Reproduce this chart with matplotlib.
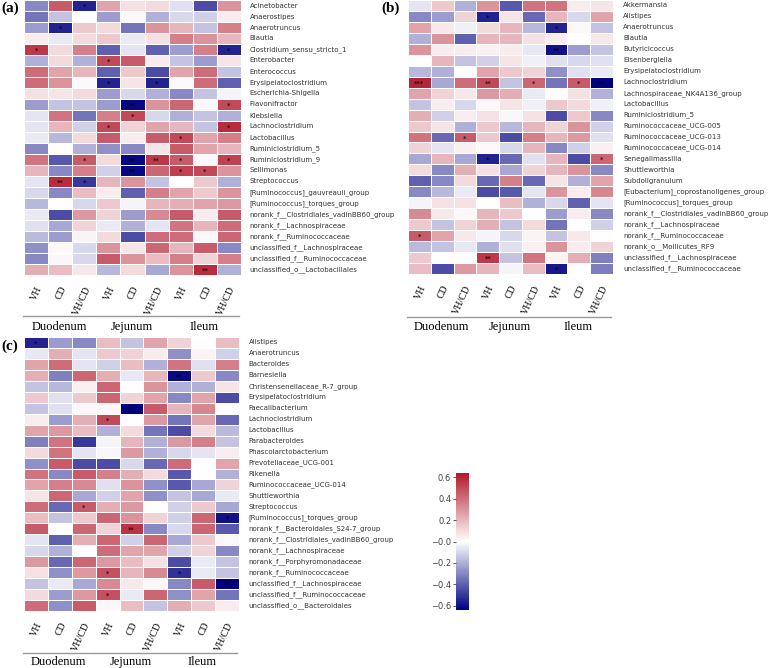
import numpy as np
import matplotlib
matplotlib.use('Agg')
import matplotlib.pyplot as plt
from matplotlib.colors import LinearSegmentedColormap
from matplotlib.lines import Line2D

W, H = 778, 668

groups = ['Duodenum', 'Jejunum', 'Ileum']
treatments = ['VH', 'CD', 'VH/CD']

# ---- panel (a) ----
a_genera = ['Acinetobacter', 'Anaerostipes', 'Anaerotruncus', 'Blautia',
            'Clostridium_sensu_stricto_1', 'Enterobacter', 'Enterococcus',
            'Erysipelatoclostridium', 'Escherichia-Shigella', 'Flavonifractor',
            'Klebsiella', 'Lachnoclostridium', 'Lactobacillus', 'Ruminiclostridium_5',
            'Ruminiclostridium_9', 'Sellimonas', 'Streptococcus',
            '[Ruminococcus]_gauvreauii_group', '[Ruminococcus]_torques_group',
            'norank_f__Clostridiales_vadinBB60_group', 'norank_f__Lachnospiraceae',
            'norank_f__Ruminococcaceae', 'unclassified_f__Lachnospiraceae',
            'unclassified_f__Ruminococcaceae', 'unclassified_o__Lactobacillales']
a_vals = [
    [-0.30, 0.45, -0.55, 0.25, 0.08, 0.10, -0.08, -0.45, 0.30],
    [-0.35, -0.15, 0.00, -0.25, 0.02, -0.20, -0.10, -0.12, 0.05],
    [-0.25, -0.55, 0.15, 0.10, -0.35, 0.30, 0.20, -0.15, 0.35],
    [0.05, -0.05, 0.10, 0.15, -0.05, 0.08, 0.35, 0.30, 0.20],
    [0.55, 0.10, 0.35, -0.40, -0.07, -0.40, -0.25, 0.35, -0.55],
    [-0.20, 0.10, -0.20, 0.50, 0.45, 0.05, -0.15, -0.25, 0.07],
    [0.40, 0.25, 0.20, -0.40, 0.15, -0.45, 0.25, 0.40, -0.15],
    [0.40, 0.30, 0.02, -0.55, 0.07, -0.55, 0.02, 0.40, -0.40],
    [0.08, 0.07, 0.10, -0.25, -0.10, -0.20, -0.30, -0.15, -0.03],
    [-0.25, -0.15, -0.15, -0.25, -0.62, 0.30, 0.42, 0.02, 0.50],
    [-0.07, 0.38, -0.35, 0.35, 0.50, -0.10, -0.20, -0.15, -0.20],
    [-0.07, 0.20, -0.12, 0.50, 0.12, 0.25, 0.20, -0.15, 0.58],
    [-0.05, -0.18, 0.10, 0.45, 0.05, 0.45, 0.50, 0.25, 0.35],
    [-0.30, 0.00, -0.20, -0.28, -0.30, 0.07, 0.45, 0.25, 0.20],
    [0.38, -0.42, 0.45, 0.10, -0.62, 0.55, 0.45, 0.02, 0.52],
    [0.20, -0.30, 0.35, -0.12, -0.62, 0.42, 0.52, 0.50, 0.30],
    [-0.07, 0.58, -0.50, 0.20, 0.30, -0.15, 0.00, 0.15, -0.20],
    [-0.10, -0.30, 0.18, 0.05, -0.40, 0.35, 0.25, 0.15, 0.30],
    [-0.18, 0.00, -0.10, 0.15, -0.03, 0.20, 0.22, 0.25, 0.28],
    [-0.05, -0.45, 0.28, 0.12, -0.25, 0.32, 0.45, 0.05, 0.45],
    [-0.08, -0.22, 0.12, -0.05, -0.20, -0.07, 0.38, 0.20, 0.40],
    [-0.17, -0.25, 0.03, 0.10, -0.45, 0.40, 0.40, 0.02, 0.42],
    [-0.28, 0.02, -0.10, 0.30, 0.07, 0.42, 0.20, 0.45, -0.30],
    [-0.30, 0.02, -0.10, 0.45, 0.30, 0.18, 0.35, 0.12, 0.35],
    [0.22, 0.18, 0.06, -0.18, 0.10, -0.22, 0.30, 0.58, -0.20],
]
a_stars = [(0, 2, '*'), (2, 1, '*'), (4, 0, '*'), (4, 8, '*'), (5, 3, '*'),
           (7, 3, '*'), (7, 5, '*'), (9, 4, '**'), (9, 8, '*'), (10, 4, '*'),
           (11, 3, '*'), (11, 8, '*'), (12, 6, '*'), (14, 2, '*'), (14, 4, '**'),
           (14, 5, '**'), (14, 6, '*'), (14, 8, '*'), (15, 4, '**'), (15, 6, '*'),
           (15, 7, '*'), (16, 1, '**'), (16, 2, '*'), (24, 7, '**')]

# ---- panel (b) ----
b_genera = ['Akkermansia', 'Alistipes', 'Anaerotruncus', 'Blautia', 'Butyricicoccus',
            'Eisenbergiella', 'Erysipelatoclostridium', 'Lachnoclostridium',
            'Lachnospiraceae_NK4A136_group', 'Lactobacillus', 'Ruminiclostridium_5',
            'Ruminococcaceae_UCG-005', 'Ruminococcaceae_UCG-013',
            'Ruminococcaceae_UCG-014', 'Senegalimassilia', 'Shuttleworthia',
            'Subdoligranulum', '[Eubacterium]_coprostanoligenes_group',
            '[Ruminococcus]_torques_group', 'norank_f__Clostridiales_vadinBB60_group',
            'norank_f__Lachnospiraceae', 'norank_f__Ruminococcaceae',
            'norank_o__Mollicutes_RF9', 'unclassified_f__Lachnospiraceae',
            'unclassified_f__Ruminococcaceae']
b_vals = [
    [-0.07, 0.15, -0.20, 0.30, -0.42, 0.38, 0.38, 0.05, 0.07],
    [-0.30, -0.25, 0.12, -0.55, 0.07, -0.38, 0.20, -0.10, 0.25],
    [0.25, 0.06, -0.04, 0.10, 0.20, -0.18, -0.55, 0.02, -0.15],
    [-0.20, 0.30, -0.40, 0.20, 0.20, 0.08, 0.05, 0.00, 0.06],
    [0.30, 0.05, 0.05, 0.04, 0.05, -0.06, -0.60, -0.25, -0.15],
    [0.00, 0.20, -0.15, -0.12, 0.07, -0.04, -0.08, -0.10, -0.08],
    [-0.18, -0.20, 0.00, 0.25, 0.15, 0.12, -0.28, -0.08, -0.05],
    [0.60, -0.22, 0.40, 0.50, -0.15, 0.42, -0.35, 0.45, -0.64],
    [0.25, 0.12, 0.06, 0.28, 0.22, -0.05, 0.00, 0.08, -0.20],
    [-0.15, 0.05, -0.10, 0.02, 0.07, -0.04, 0.15, 0.10, -0.04],
    [0.22, -0.12, 0.05, 0.08, -0.02, 0.08, -0.45, 0.15, -0.30],
    [0.15, 0.07, -0.20, 0.15, -0.18, 0.20, 0.12, 0.30, -0.12],
    [0.38, -0.38, 0.45, 0.15, -0.45, 0.35, 0.20, 0.28, -0.08],
    [0.12, -0.07, 0.04, 0.02, -0.10, 0.20, -0.30, -0.12, 0.04],
    [-0.22, 0.20, -0.22, -0.55, -0.38, -0.08, 0.20, -0.45, 0.42],
    [0.10, -0.30, 0.22, 0.08, -0.22, 0.12, 0.20, 0.30, -0.30],
    [-0.40, -0.30, 0.10, -0.38, 0.35, -0.38, 0.07, -0.20, 0.25],
    [-0.30, -0.18, -0.05, -0.45, -0.42, -0.07, 0.30, 0.05, 0.33],
    [-0.03, 0.08, 0.08, 0.00, 0.18, -0.20, -0.10, -0.40, -0.07],
    [0.32, 0.06, 0.02, 0.20, 0.15, 0.00, -0.25, 0.05, -0.30],
    [0.15, -0.15, 0.12, 0.22, -0.15, 0.10, -0.35, 0.00, -0.12],
    [0.45, 0.25, 0.06, -0.03, -0.10, 0.03, -0.15, 0.06, 0.00],
    [-0.17, -0.15, -0.06, -0.20, -0.08, 0.04, 0.30, 0.05, 0.12],
    [0.15, 0.00, 0.00, 0.55, -0.15, 0.38, 0.03, 0.22, -0.32],
    [0.18, -0.45, 0.28, 0.20, -0.03, 0.18, -0.58, 0.00, -0.33],
]
b_stars = [(1, 3, '*'), (2, 6, '*'), (4, 6, '**'), (7, 0, '***'), (7, 3, '**'),
           (7, 5, '*'), (7, 7, '*'), (7, 8, '**'), (12, 2, '*'), (14, 3, '*'),
           (14, 8, '*'), (21, 0, '*'), (23, 3, '**'), (24, 6, '*')]

# ---- panel (c) ----
c_genera = ['Alistipes', 'Anaerotruncus', 'Bacteroides', 'Barnesiella',
            'Christensenellaceae_R-7_group', 'Erysipelatoclostridium', 'Faecalibacterium',
            'Lachnoclostridium', 'Lactobacillus', 'Parabacteroides',
            'Phascolarctobacterium', 'Prevotellaceae_UCG-001', 'Rikenella',
            'Ruminococcaceae_UCG-014', 'Shuttleworthia', 'Streptococcus',
            '[Ruminococcus]_torques_group', 'norank_f__Bacteroidales_S24-7_group',
            'norank_f__Clostridiales_vadinBB60_group', 'norank_f__Lachnospiraceae',
            'norank_f__Porphyromonadaceae', 'norank_f__Ruminococcaceae',
            'unclassified_f__Lachnospiraceae', 'unclassified_f__Ruminococcaceae',
            'unclassified_o__Bacteroidales']
c_vals = [
    [-0.55, -0.25, -0.30, 0.18, -0.15, 0.25, 0.12, 0.00, 0.18],
    [-0.06, 0.22, -0.07, 0.15, 0.12, 0.05, -0.28, 0.03, -0.12],
    [0.25, 0.40, -0.07, -0.12, 0.18, -0.20, 0.38, -0.08, 0.35],
    [0.22, -0.32, 0.42, 0.22, -0.06, 0.20, -0.62, 0.15, -0.30],
    [-0.15, -0.18, 0.04, 0.42, 0.00, 0.30, -0.20, -0.20, 0.07],
    [0.15, -0.08, 0.15, 0.42, 0.12, 0.25, -0.30, 0.25, -0.45],
    [-0.15, -0.08, 0.02, 0.02, -0.64, 0.45, 0.20, 0.33, 0.00],
    [0.05, -0.25, 0.22, 0.50, 0.00, 0.28, -0.35, 0.25, -0.38],
    [0.25, 0.28, 0.18, -0.20, 0.10, -0.35, -0.45, 0.10, -0.17],
    [-0.32, 0.38, -0.50, -0.03, 0.20, -0.20, 0.28, 0.35, -0.15],
    [0.10, 0.38, -0.07, -0.02, 0.28, -0.20, -0.10, -0.07, 0.05],
    [-0.28, 0.45, -0.45, -0.45, -0.10, -0.38, 0.40, 0.00, 0.25],
    [0.38, -0.30, 0.45, 0.35, 0.22, 0.10, -0.42, 0.00, -0.20],
    [0.25, 0.35, 0.32, -0.08, 0.30, -0.28, -0.42, -0.22, 0.12],
    [0.07, 0.42, -0.22, -0.12, 0.25, -0.28, -0.15, -0.22, -0.05],
    [0.40, -0.38, 0.45, 0.22, 0.28, 0.00, -0.12, 0.15, -0.22],
    [0.18, -0.15, 0.15, 0.42, 0.30, 0.12, -0.12, 0.42, -0.60],
    [0.45, 0.00, 0.42, 0.12, 0.56, -0.30, -0.10, 0.42, -0.42],
    [-0.07, -0.40, 0.22, 0.42, -0.12, 0.42, -0.22, 0.15, 0.02],
    [-0.10, -0.20, 0.00, 0.40, 0.25, 0.25, -0.12, 0.12, -0.30],
    [0.28, -0.38, 0.42, 0.28, 0.18, 0.08, -0.45, -0.05, -0.15],
    [0.08, -0.28, 0.28, 0.48, 0.20, 0.32, -0.52, -0.05, -0.15],
    [-0.15, -0.05, -0.22, 0.32, 0.06, 0.02, -0.30, 0.45, -0.64],
    [0.10, -0.25, 0.28, 0.48, -0.05, 0.42, -0.28, 0.25, -0.35],
    [0.40, -0.28, 0.45, 0.02, 0.18, -0.15, 0.22, 0.15, 0.05],
]
c_stars = [(0, 0, '*'), (3, 6, '**'), (6, 4, '**'), (7, 3, '*'), (15, 2, '*'),
           (16, 8, '*'), (17, 4, '**'), (21, 3, '*'), (21, 6, '*'), (22, 8, '**'),
           (23, 3, '*')]

cbar_ticks = [-0.6, -0.4, -0.2, 0.0, 0.2, 0.4, 0.6]
cbar_labels = ['\u22120.6', '\u22120.4', '\u22120.2', '\u22120.0', '0.2', '0.4', '0.6']

VMIN, VMAX = -0.64, 0.64
cmap = LinearSegmentedColormap.from_list('bwr_dark', ['#000080', '#ffffff', '#b2182b'])


def px_axes(fig, x0, y0, x1, y1):
    # pixel box (top-left origin) -> figure axes
    return fig.add_axes([x0 / W, 1 - y1 / H, (x1 - x0) / W, (y1 - y0) / H])


def fig_line(fig, x0, x1, y):
    fig.add_artist(Line2D([x0 / W, x1 / W], [1 - y / H, 1 - y / H],
                          color='#999999', lw=1.0, transform=fig.transFigure))


def heatmap(fig, box, genera, vals, stars, line_y, group_y, label_x):
    x0, y0, x1, y1 = box
    ax = px_axes(fig, x0, y0, x1, y1)
    data = np.array(vals)
    mesh = ax.pcolormesh(data, cmap=cmap, vmin=VMIN, vmax=VMAX,
                         edgecolors='white', linewidth=0.6)
    ax.set_xlim(0, data.shape[1])
    ax.set_ylim(data.shape[0], 0)
    for s in ax.spines.values():
        s.set_visible(False)
    ax.set_xticks(np.arange(data.shape[1]) + 0.5)
    ax.set_xticklabels(treatments * 3, rotation=65, ha='right',
                       rotation_mode='anchor', family='Liberation Serif',
                       fontsize=7.2)
    ax.tick_params(axis='x', length=0, pad=7)
    ax.set_yticks([])
    for i, name in enumerate(genera):
        ax.text(label_x, i + 0.5, name, transform=ax.get_yaxis_transform(),
                ha='left', va='center', fontsize=5, color='#333333')
    for r, c, mark in stars:
        ax.text(c + 0.5, r + 0.62, mark, ha='center', va='center',
                fontsize=5, color='black')
    cw = (x1 - x0) / 3.0
    for g, name in enumerate(groups):
        gx0 = x0 + g * cw
        fig_line(fig, gx0 - 1, gx0 + cw - 2, line_y)
        fig.text((gx0 + cw / 2 - 1) / W, 1 - group_y / H, name,
                 ha='center', va='center', family='Liberation Serif', fontsize=9)
    return mesh


fig = plt.figure(figsize=(W / 100, H / 100), dpi=100)

heatmap(fig, (24, 0, 241, 275), a_genera, a_vals, a_stars, 316, 327, 1.04)
heatmap(fig, (408, 0, 613, 274), b_genera, b_vals, b_stars, 317, 327, 1.05)
mesh = heatmap(fig, (24, 337, 239, 611), c_genera, c_vals, c_stars, 653, 662, 1.045)

fig.text(1 / W, 1 - 8 / H, '(a)', fontsize=11, fontweight='bold',
         family='Liberation Serif', va='center', ha='left')
fig.text(381 / W, 1 - 8 / H, '(b)', fontsize=11, fontweight='bold',
         family='Liberation Serif', va='center', ha='left')
fig.text(1 / W, 1 - 346 / H, '(c)', fontsize=11, fontweight='bold',
         family='Liberation Serif', va='center', ha='left')

cax = px_axes(fig, 456, 473, 469, 610)
cb = fig.colorbar(mesh, cax=cax)
cb.outline.set_visible(False)
cb.set_ticks(cbar_ticks)
cb.set_ticklabels(cbar_labels)
cax.yaxis.set_ticks_position('left')
cax.tick_params(labelsize=6, length=2, width=0.6, colors='#444444', pad=1.5)

fig.savefig('out.png', dpi=100)
